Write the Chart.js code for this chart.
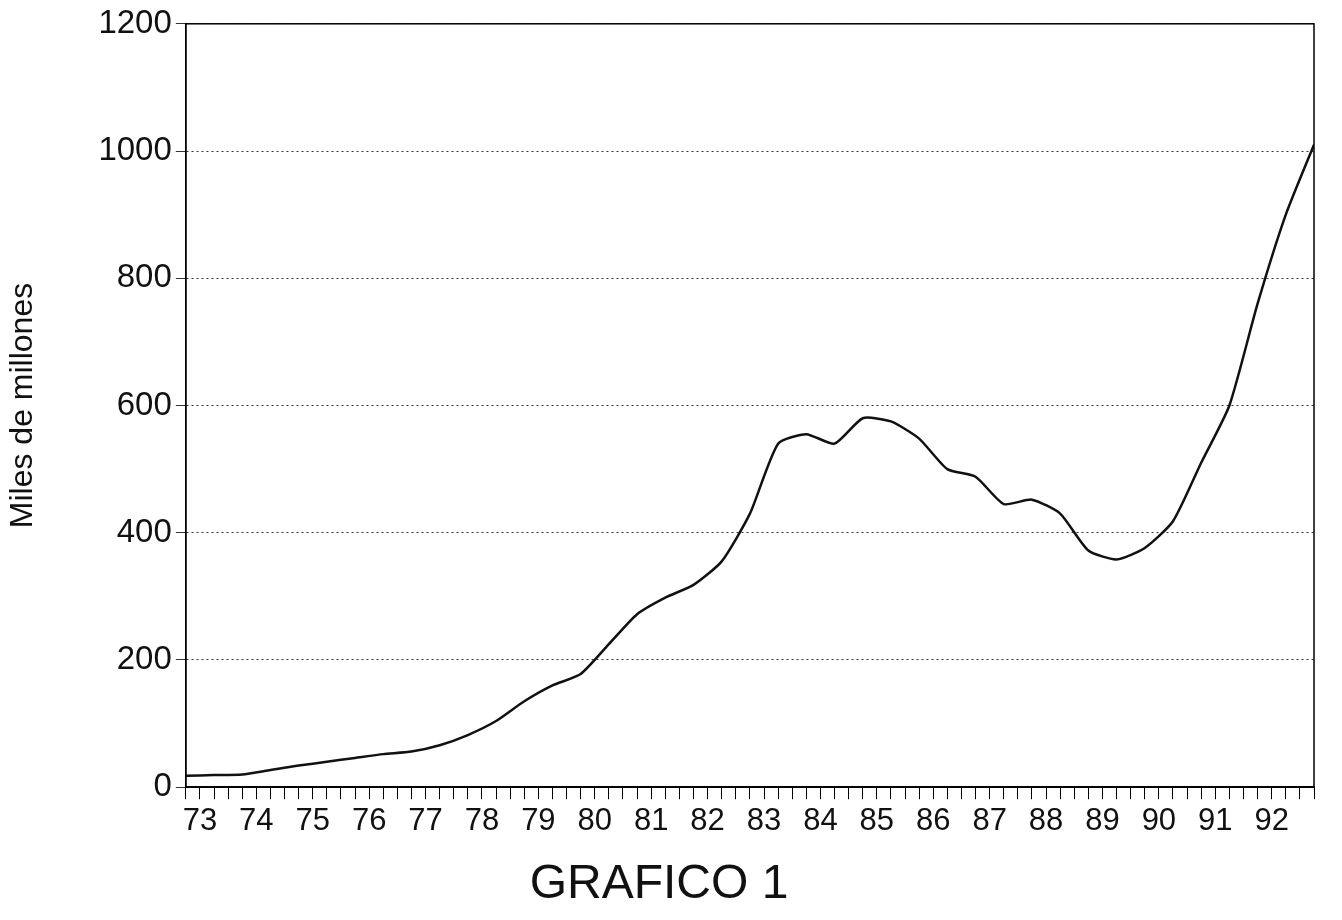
<!DOCTYPE html>
<html>
<head>
<meta charset="utf-8">
<script src="https://cdn.jsdelivr.net/npm/chart.js@4"></script>
<style>
body { margin:0; background:#fff; }
</style>
</head>
<body>
<canvas id="canvas" width="1342" height="920"></canvas>
<script>
// half-year points, x in years (73 = 1973)
var periods = [73,73.5,74,74.5,75,75.5,76,76.5,77,77.5,78,78.5,79,79.5,80,80.5,81,81.5,82,82.5,83,83.5,84,84.5,85,85.5,86,86.5,87,87.5,88,88.5,89,89.5,90,90.5,91,91.5,92,92.5,93];
var values = [18,19,20,27,34,40,46,52,56,66,82,104,135,160,178,225,272,298,318,355,430,540,555,540,580,575,548,500,488,445,452,430,372,358,376,418,510,600,760,900,1010];
var yearLabels = ['73','74','75','76','77','78','79','80','81','82','83','84','85','86','87','88','89','90','91','92'];

var boxPlugin = {
  id: 'box',
  afterDraw: function (c) {
    var a = c.chartArea, ctx = c.ctx;
    ctx.save();
    ctx.strokeStyle = '#000';
    ctx.lineWidth = 1.5;
    ctx.strokeRect(a.left, a.top, a.right - a.left, a.bottom - a.top);
    ctx.restore();
  }
};

var pts = periods.map(function (p, i) { return {x: p, y: values[i]}; });
var ctx = document.getElementById('canvas').getContext('2d');
var chart = new Chart(ctx, {
  type: 'line',
  data: { datasets: [{ data: pts, borderColor: '#111', borderWidth: 2.5, pointRadius: 0, fill: false, tension: 0.2 }] },
  plugins: [boxPlugin],
  options: {
    responsive: false,
    animation: false,
    layout: { padding: { top: 14, right: 28, left: 4, bottom: 6 } },
    plugins: {
      legend: { display: false },
      tooltip: { enabled: false },
      title: { display: true, text: 'GRAFICO 1', position: 'bottom', color: '#111',
               font: { family: 'Liberation Sans', size: 48, weight: 'normal' }, padding: { top: 12, bottom: 0 } }
    },
    scales: {
      x: {
        type: 'linear', min: 73, max: 93,
        afterBuildTicks: function (ax) {
          var t = [];
          for (var v = 73; v <= 93.001; v += 0.25) t.push({value: v});
          ax.ticks = t;
        },
        border: { display: true, color: '#000', width: 1.5 },
        grid: { drawOnChartArea: false, color: '#000', tickLength: 12 },
        ticks: {
          autoSkip: false, maxRotation: 0, color: '#111', padding: 4,
          font: { family: 'Liberation Sans', size: 31 },
          callback: function (v) {
            var f = v - Math.floor(v);
            if (Math.abs(f - 0.25) < 0.01) return yearLabels[Math.floor(v) - 73];
            return '';
          }
        }
      },
      y: {
        min: 0, max: 1200,
        border: { display: true, color: '#000', width: 1.5, dash: [2, 3] },
        grid: { color: '#333', lineWidth: 1, tickLength: 10 },
        ticks: { stepSize: 200, color: '#111', padding: 4, font: { family: 'Liberation Sans', size: 33 },
                 callback: function (v) { return String(v); } },
        title: { display: true, text: 'Miles de millones', color: '#111', padding: { top: 0, bottom: 52 },
                 font: { family: 'Liberation Sans', size: 32 } }
      }
    }
  }
});
</script>
</body>
</html>
